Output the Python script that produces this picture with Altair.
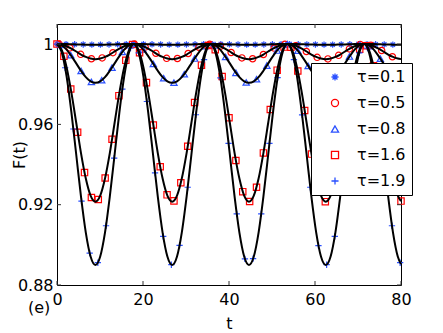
import altair as alt
import pandas as pd

series = ["τ=0.1", "τ=0.5", "τ=0.8", "τ=1.6", "τ=1.9"]
colors = ["#2a50ff", "#ff0000", "#2a50ff", "#ff0000", "#2a50ff"]
ASTERISK = "M-1,0L1,0M0,-1L0,1M-0.7,-0.7L0.7,0.7M-0.7,0.7L0.7,-0.7"
PLUS = "M-1,0L1,0M0,-1L0,1"
shapes = [ASTERISK, "circle", "triangle-up", "square", PLUS]

x_ticks = [0, 20, 40, 60, 80]
y_ticks = [0.88, 0.92, 0.96, 1.0]

# theory curves (black lines)
t_line = [0, 1.12, 2.23, 3.35, 4.47, 5.58, 6.70, 7.81, 8.93, 10.05, 11.16, 12.28, 13.40, 14.51, 15.63, 16.74,
          17.86, 18.98, 20.09, 21.21, 22.33, 23.44, 24.56, 25.67, 26.79, 27.91, 29.02, 30.14, 31.26, 32.37, 33.49, 34.60,
          35.72, 36.84, 37.95, 39.07, 40.19, 41.30, 42.42, 43.53, 44.65, 45.77, 46.88, 48.00, 49.12, 50.23, 51.35, 52.46,
          53.58, 54.70, 55.81, 56.93, 58.05, 59.16, 60.28, 61.39, 62.51, 63.63, 64.74, 65.86, 66.98, 68.09, 69.21, 70.32,
          71.44, 72.56, 73.67, 74.79, 75.91, 77.02, 78.14, 79.25, 80.0]
F_line_01 = [1.0, 1.0, 1.0, 0.9999, 0.9998, 0.9998, 0.9997, 0.9997, 0.9997, 0.9997, 0.9997, 0.9998, 0.9998, 0.9999, 1.0, 1.0,
             1.0, 1.0, 1.0, 0.9999, 0.9998, 0.9998, 0.9997, 0.9997, 0.9997, 0.9997, 0.9997, 0.9998, 0.9998, 0.9999, 1.0, 1.0,
             1.0, 1.0, 1.0, 0.9999, 0.9998, 0.9998, 0.9997, 0.9997, 0.9997, 0.9997, 0.9997, 0.9998, 0.9998, 0.9999, 1.0, 1.0,
             1.0, 1.0, 1.0, 0.9999, 0.9998, 0.9998, 0.9997, 0.9997, 0.9997, 0.9997, 0.9997, 0.9998, 0.9998, 0.9999, 1.0, 1.0,
             1.0, 1.0, 1.0, 0.9999, 0.9998, 0.9998, 0.9997, 0.9997, 0.9997]
F_line_05 = [1.0, 0.9997, 0.9989, 0.9977, 0.9963, 0.9948, 0.9936, 0.9928, 0.9925, 0.9928, 0.9936, 0.9948, 0.9963, 0.9977, 0.9989, 0.9997,
             1.0, 0.9997, 0.9989, 0.9977, 0.9963, 0.9948, 0.9936, 0.9928, 0.9925, 0.9928, 0.9936, 0.9948, 0.9963, 0.9977, 0.9989, 0.9997,
             1.0, 0.9997, 0.9989, 0.9977, 0.9963, 0.9948, 0.9936, 0.9928, 0.9925, 0.9928, 0.9936, 0.9948, 0.9963, 0.9977, 0.9989, 0.9997,
             1.0, 0.9997, 0.9989, 0.9977, 0.9963, 0.9948, 0.9936, 0.9928, 0.9925, 0.9928, 0.9936, 0.9948, 0.9963, 0.9977, 0.9989, 0.9997,
             1.0, 0.9997, 0.9989, 0.9977, 0.9963, 0.9948, 0.9936, 0.9928, 0.9925]
F_line_08 = [1.0, 0.9993, 0.9972, 0.9940, 0.9904, 0.9867, 0.9835, 0.9814, 0.9807, 0.9814, 0.9835, 0.9867, 0.9904, 0.9940, 0.9972, 0.9993,
             1.0, 0.9993, 0.9972, 0.9940, 0.9904, 0.9867, 0.9835, 0.9814, 0.9807, 0.9814, 0.9835, 0.9867, 0.9904, 0.9940, 0.9972, 0.9993,
             1.0, 0.9993, 0.9972, 0.9940, 0.9904, 0.9867, 0.9835, 0.9814, 0.9807, 0.9814, 0.9835, 0.9867, 0.9904, 0.9940, 0.9972, 0.9993,
             1.0, 0.9993, 0.9972, 0.9940, 0.9904, 0.9867, 0.9835, 0.9814, 0.9807, 0.9814, 0.9835, 0.9867, 0.9904, 0.9940, 0.9972, 0.9993,
             1.0, 0.9993, 0.9972, 0.9940, 0.9904, 0.9867, 0.9835, 0.9814, 0.9808]
F_line_16 = [1.0, 0.9970, 0.9885, 0.9758, 0.9608, 0.9457, 0.9330, 0.9245, 0.9215, 0.9245, 0.9330, 0.9457, 0.9608, 0.9758, 0.9885, 0.9970,
             1.0, 0.9970, 0.9885, 0.9758, 0.9608, 0.9457, 0.9330, 0.9245, 0.9215, 0.9245, 0.9330, 0.9457, 0.9608, 0.9758, 0.9885, 0.9970,
             1.0, 0.9970, 0.9885, 0.9758, 0.9608, 0.9457, 0.9330, 0.9245, 0.9215, 0.9245, 0.9330, 0.9457, 0.9608, 0.9758, 0.9885, 0.9970,
             1.0, 0.9970, 0.9885, 0.9758, 0.9608, 0.9457, 0.9330, 0.9245, 0.9215, 0.9245, 0.9330, 0.9457, 0.9608, 0.9758, 0.9885, 0.9970,
             1.0, 0.9970, 0.9885, 0.9758, 0.9608, 0.9457, 0.9330, 0.9245, 0.9218]
F_line_19 = [1.0, 0.9958, 0.9839, 0.9660, 0.9450, 0.9240, 0.9061, 0.8942, 0.8900, 0.8942, 0.9061, 0.9240, 0.9450, 0.9660, 0.9839, 0.9958,
             1.0, 0.9958, 0.9839, 0.9660, 0.9450, 0.9240, 0.9061, 0.8942, 0.8900, 0.8942, 0.9061, 0.9240, 0.9450, 0.9660, 0.9839, 0.9958,
             1.0, 0.9958, 0.9839, 0.9660, 0.9450, 0.9240, 0.9061, 0.8942, 0.8900, 0.8942, 0.9061, 0.9240, 0.9450, 0.9660, 0.9839, 0.9958,
             1.0, 0.9958, 0.9839, 0.9660, 0.9450, 0.9240, 0.9061, 0.8942, 0.8900, 0.8942, 0.9061, 0.9240, 0.9450, 0.9660, 0.9839, 0.9958,
             1.0, 0.9958, 0.9839, 0.9660, 0.9450, 0.9240, 0.9061, 0.8942, 0.8904]

# simulated points (markers)
t_m01 = [0.1, 2.1, 4.1, 6.1, 8.1, 10.1, 12.1, 14.1, 16.1, 18.1, 20.1, 22.1, 24.1, 26.1, 28.1, 30.1, 32.1, 34.1, 36.1, 38.1,
         40.1, 42.1, 44.1, 46.1, 48.1, 50.1, 52.1, 54.1, 56.1, 58.1, 60.1, 62.1, 64.1, 66.1, 68.1, 70.1, 72.1, 74.1, 76.1, 78.1]
F_m01 = [1.0, 1.0, 0.9999, 0.9998, 0.9997, 0.9997, 0.9998, 0.9999, 1.0, 1.0, 1.0, 0.9999, 0.9998, 0.9997, 0.9997, 0.9998,
         0.9999, 1.0, 1.0, 1.0, 0.9999, 0.9998, 0.9997, 0.9997, 0.9998, 0.9999, 1.0, 1.0, 0.9999, 0.9998, 0.9998, 0.9997,
         0.9997, 0.9998, 0.9999, 1.0, 1.0, 0.9999, 0.9998, 0.9997]
t_m05 = [0.5, 3.0, 5.5, 8.0, 10.5, 13.0, 15.5, 18.0, 20.5, 23.0, 25.5, 28.0, 30.5, 33.0, 35.5, 38.0,
         40.5, 43.0, 45.5, 48.0, 50.5, 53.0, 55.5, 58.0, 60.5, 63.0, 65.5, 68.0, 70.5, 73.0, 75.5, 78.0]
F_m05 = [0.9999, 0.9981, 0.9949, 0.9927, 0.9931, 0.9957, 0.9988, 1.0, 0.9985, 0.9954, 0.9929, 0.9928, 0.9953, 0.9984, 0.9999, 0.9989,
         0.9958, 0.9931, 0.9927, 0.9948, 0.9980, 0.9999, 0.9992, 0.9963, 0.9934, 0.9926, 0.9944, 0.9976, 0.9998, 0.9994, 0.9968, 0.9937]
t_m08 = [0.8, 3.2, 5.6, 8.0, 10.4, 12.8, 15.2, 17.6, 20.0, 22.4, 24.8, 27.2, 29.6, 32.0, 34.4, 36.8, 39.2,
         41.6, 44.0, 46.4, 48.8, 51.2, 53.6, 56.0, 58.4, 60.8, 63.2, 65.6, 68.0, 70.4, 72.8, 75.2, 77.6, 80.0]
F_m08 = [0.9996, 0.9945, 0.9866, 0.9812, 0.9820, 0.9883, 0.9961, 1.0, 0.9974, 0.9901, 0.9830, 0.9808, 0.9850, 0.9928, 0.9990, 0.9993, 0.9936,
         0.9857, 0.9809, 0.9825, 0.9893, 0.9968, 1.0, 0.9967, 0.9891, 0.9824, 0.9810, 0.9859, 0.9938, 0.9994, 0.9989, 0.9927, 0.9849, 0.9808]
t_m16 = [0, 1.6, 3.2, 4.8, 6.4, 8.0, 9.6, 11.2, 12.8, 14.4, 16.0, 17.6, 19.2, 20.8, 22.4, 24.0, 25.6, 27.2, 28.8, 30.4,
         32.0, 33.6, 35.2, 36.8, 38.4, 40.0, 41.6, 43.2, 44.8, 46.4, 48.0, 49.6, 51.2, 52.8, 54.4, 56.0, 57.6, 59.2, 60.8, 62.4,
         64.0, 65.6, 67.2, 68.8, 70.4, 72.0, 73.6, 75.2, 76.8, 78.4, 80.0]
F_m16 = [1.0, 0.9939, 0.9776, 0.9561, 0.9360, 0.9236, 0.9226, 0.9333, 0.9526, 0.9743, 0.9919, 0.9998, 0.9957, 0.9808, 0.9597, 0.9389,
         0.9249, 0.9219, 0.9309, 0.9491, 0.9709, 0.9895, 0.9993, 0.9972, 0.9838, 0.9633, 0.9420, 0.9265, 0.9216, 0.9287, 0.9458, 0.9674,
         0.9870, 0.9985, 0.9984, 0.9866, 0.9669, 0.9452, 0.9284, 0.9215, 0.9268, 0.9425, 0.9639, 0.9843, 0.9974, 0.9992, 0.9892, 0.9704,
         0.9486, 0.9306, 0.9218]
t_m19 = [0, 1.9, 3.8, 5.7, 7.6, 9.5, 11.4, 13.3, 15.2, 17.1, 19.0, 20.9, 22.8, 24.7, 26.6, 28.5, 30.4, 32.3, 34.2, 36.1, 38.0, 39.9,
         41.8, 43.7, 45.6, 47.5, 49.4, 51.3, 53.2, 55.1, 57.0, 58.9, 60.8, 62.7, 64.6, 66.5, 68.4, 70.3, 72.2, 74.1, 76.0, 77.9, 79.8]
F_m19 = [1.0, 0.9882, 0.9577, 0.9218, 0.8959, 0.8911, 0.9095, 0.9432, 0.9776, 0.9980, 0.9956, 0.9714, 0.9358, 0.9042, 0.8901, 0.8997,
         0.9287, 0.9648, 0.9923, 0.9995, 0.9832, 0.9505, 0.9154, 0.8930, 0.8931, 0.9154, 0.9505, 0.9833, 0.9995, 0.9923, 0.9647, 0.9287,
         0.8996, 0.8901, 0.9042, 0.9358, 0.9715, 0.9956, 0.9980, 0.9776, 0.9432, 0.9095, 0.8911]

line_sets = [F_line_01, F_line_05, F_line_08, F_line_16, F_line_19]
marker_sets = [(t_m01, F_m01), (t_m05, F_m05), (t_m08, F_m08), (t_m16, F_m16), (t_m19, F_m19)]

lines_df = pd.concat([pd.DataFrame({"t": t_line, "F": f, "series": s}) for s, f in zip(series, line_sets)])
pts_df = pd.concat([pd.DataFrame({"t": tt, "F": ff, "series": s}) for s, (tt, ff) in zip(series, marker_sets)])

FONT = "DejaVu Sans"
W, H = 344, 261

xscale = alt.Scale(domain=[0, 80], nice=False, zero=False)
yscale = alt.Scale(domain=[0.88, 1.01], nice=False, zero=False)
xaxis = alt.Axis(values=x_ticks, ticks=False, tickSize=0, domain=False, grid=False, labelFont=FONT,
                 labelFontSize=16, labelColor="black", labelPadding=6, labelFlush=False,
                 title="t", titleFont=FONT,
                 titleFontSize=16, titleFontWeight="normal", titleColor="black", titleY=43,
                 titleBaseline="alphabetic")
yaxis = alt.Axis(values=y_ticks, format=".2~f", ticks=False, tickSize=0, domain=False, grid=False,
                 labelFont=FONT, labelFontSize=16, labelColor="black", labelPadding=4, labelFlush=False,
                 title="F(t)",
                 titleFont=FONT, titleFontSize=16, titleFontWeight="normal", titleColor="black",
                 titleAngle=270, titleX=-30, titleY=H / 2, titleAlign="center", titleBaseline="bottom")
x_enc = alt.X("t:Q", scale=xscale, axis=xaxis)
y_enc = alt.Y("F:Q", scale=yscale, axis=yaxis)

legend = alt.Legend(orient="none", legendX=254, legendY=39, title=None, fillColor="white",
                    strokeColor="black", padding=6, labelFont=FONT, labelFontSize=16,
                    labelColor="black", symbolSize=50, symbolStrokeWidth=1.3, rowPadding=10,
                    symbolOffset=10, labelOffset=14)

points = alt.Chart(pts_df).mark_point(filled=False, size=40, strokeWidth=1.2, opacity=1).encode(
    x=x_enc, y=y_enc,
    color=alt.Color("series:N", scale=alt.Scale(domain=series, range=colors), legend=legend),
    shape=alt.Shape("series:N", scale=alt.Scale(domain=series, range=shapes), legend=legend),
)

lines = alt.Chart(lines_df).mark_line(color="black", strokeWidth=2, interpolate="monotone").encode(
    x=x_enc, y=y_enc, detail="series:N"
)

xt = pd.DataFrame({"t": x_ticks})
yt = pd.DataFrame({"F": y_ticks})
tick_style = dict(color="#333333", strokeWidth=1)
xt_bottom = alt.Chart(xt).mark_rule(**tick_style).encode(x=x_enc, y=alt.value(H), y2=alt.value(H - 4))
xt_top = alt.Chart(xt).mark_rule(**tick_style).encode(x=x_enc, y=alt.value(0), y2=alt.value(4))
yt_left = alt.Chart(yt).mark_rule(**tick_style).encode(y=y_enc, x=alt.value(0), x2=alt.value(4))
yt_right = alt.Chart(yt).mark_rule(**tick_style).encode(y=y_enc, x=alt.value(W), x2=alt.value(W - 4))

panel = alt.Chart(pd.DataFrame({"label": ["(e)"]})).mark_text(
    align="left", baseline="alphabetic", font=FONT, fontSize=16, color="black"
).encode(x=alt.value(-29), y=alt.value(289), text="label:N")

chart = alt.layer(points, lines, xt_bottom, xt_top, yt_left, yt_right, panel).properties(
    width=W, height=H,
    padding={"left": 49, "top": 16, "right": 30, "bottom": 46},
    autosize=alt.AutoSizeParams(type="none"),
).configure_view(stroke="black", strokeWidth=1)

chart.save("out.html", embed_options={"renderer": "svg", "actions": False})
